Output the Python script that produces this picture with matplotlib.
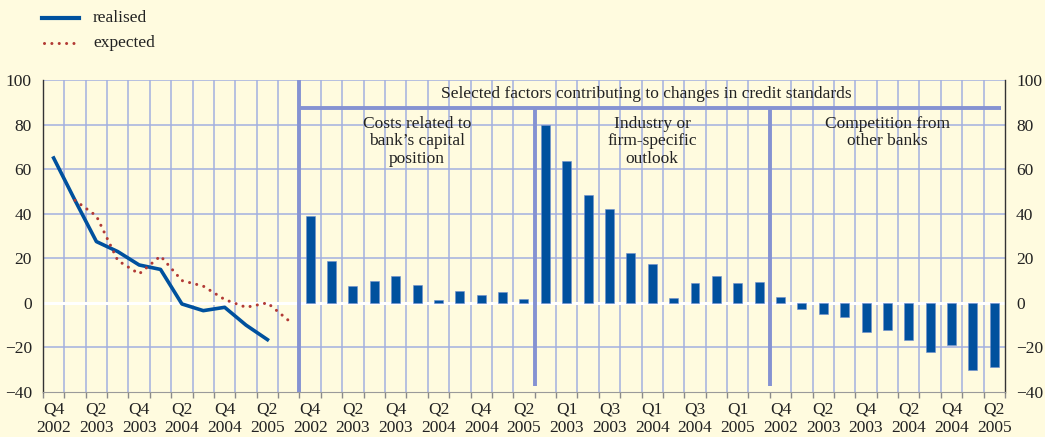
import matplotlib.pyplot as plt
import numpy as np
from matplotlib.lines import Line2D

plt.rcParams['font.family'] = ['Liberation Serif', 'DejaVu Serif']

# left panel: quarterly series Q4 2002 .. Q3 2005
realised = [65, 46, 27.5, 23, 17, 15, -0.5, -3.5, -2, -10, -16.5]
expected = [None, 46, 39, 19, 13, 21, 10, 7.5, 1.5, -2, 0, -8]
left_labels = ['Q4\n2002', 'Q2\n2003', 'Q4\n2003', 'Q2\n2004', 'Q4\n2004', 'Q2\n2005']

# right panels: Q4 2002 .. Q2 2005
costs = [39, 19, 7.5, 10, 12, 8, 1.5, 5.3, 3.3, 4.8, 1.7]
industry = [80, 63.5, 48.5, 42, 22.5, 17.5, 2, 9, 12.2, 9, 9.2]
competition = [2.7, -2.7, -5, -6.2, -13.2, -12.3, -16.5, -22, -18.8, -30, -28.6]
costs_labels = ['Q4\n2002', 'Q2\n2003', 'Q4\n2003', 'Q2\n2004', 'Q4\n2004', 'Q2\n2005']
industry_labels = ['Q1\n2003', 'Q3\n2003', 'Q1\n2004', 'Q3\n2004', 'Q1\n2005']
competition_labels = ['Q4\n2002', 'Q2\n2003', 'Q4\n2003', 'Q2\n2004', 'Q4\n2004', 'Q2\n2005']

bg = '#fffbdf'
grid_c = '#a3b0e0'
sep_c = '#8592d2'
blue = '#00519e'
red = '#b23a35'
txt = '#222222'
fs = 12.5

fig = plt.figure(figsize=(10.45, 4.37), dpi=100, facecolor=bg)
ax = fig.add_axes([0.0411, 0.103, 0.9206, 0.7139])
ax.set_facecolor(bg)

n_left = 12
x_left = np.arange(n_left)
x_costs = n_left + np.arange(len(costs))
x_ind = x_costs[-1] + 1 + np.arange(len(industry))
x_comp = x_ind[-1] + 1 + np.arange(len(competition))
n_total = x_comp[-1] + 1

ax.set_xlim(-0.5, n_total - 0.5)
ax.set_ylim(-40, 100)

# grid
seps = [n_left - 0.5, x_ind[0] - 0.5, x_comp[0] - 0.5]
for b in np.arange(0.5, n_total - 0.5, 1.0):
    if b in seps:
        continue
    ax.axvline(b, color=grid_c, lw=1.1, zorder=1)
for yv in [-20, 20, 40, 60, 80, 100]:
    ax.axhline(yv, color=grid_c, lw=1.1, zorder=1)
ax.axhline(0, color='white', lw=2.2, zorder=2)

# separators
ax.plot([seps[0], seps[0]], [-40, 100], color=sep_c, lw=2.8, zorder=3, solid_capstyle='butt')
for s in seps[1:]:
    ax.plot([s, s], [-37.5, 87.5], color=sep_c, lw=2.8, zorder=3, solid_capstyle='butt')
ax.plot([seps[0], n_total - 0.7], [87.5, 87.5], color=sep_c, lw=2.8, zorder=3, solid_capstyle='butt')

# lines
dots = (0, (0.01, 2.4))
ax.plot(x_left[:len(realised)], realised, color=blue, lw=2.6, zorder=5)
exp_x = [x for x, v in zip(x_left, expected) if v is not None]
exp_y = [v for v in expected if v is not None]
ax.plot(exp_x, exp_y, color=red, lw=2.2, linestyle=dots, dash_capstyle='round', zorder=5)

# bars
w = 0.42
for xs, vals in [(x_costs, costs), (x_ind, industry), (x_comp, competition)]:
    ax.bar(xs, vals, width=w, color=blue, edgecolor='#6f8fcf', linewidth=0.4, zorder=4)

# panel texts
ax.text((seps[0] + n_total - 0.5) / 2 - 0.3, 93.6,
        'Selected factors contributing to changes in credit standards',
        ha='center', va='center', fontsize=fs, color=txt, zorder=6)
ax.text(x_costs.mean(), 84, 'Costs related to\nbank\u2019s capital\nposition',
        ha='center', va='top', fontsize=fs, color=txt, linespacing=1.12, zorder=6)
ax.text(x_ind.mean(), 84, 'Industry or\nfirm-specific\noutlook',
        ha='center', va='top', fontsize=fs, color=txt, linespacing=1.12, zorder=6)
ax.text(x_comp.mean(), 84, 'Competition from\nother banks',
        ha='center', va='top', fontsize=fs, color=txt, linespacing=1.12, zorder=6)

# ticks
tick_pos = list(x_left[0:12:2]) + list(x_costs[0::2]) + list(x_ind[1::2]) + list(x_comp[0::2])
tick_lab = left_labels + costs_labels + industry_labels + competition_labels
ax.set_xticks(tick_pos)
ax.set_xticklabels(tick_lab, fontsize=fs, color=txt, linespacing=1.15)
ax.set_xticks(np.arange(-0.5, n_total, 1.0), minor=True)
ax.tick_params(axis='x', which='major', length=0, pad=7)
ax.tick_params(axis='x', which='minor', length=4, color='#8a8a8a', width=1.0)

ax.set_yticks(np.arange(-40, 101, 20))
ax.tick_params(axis='y', which='both', length=0, pad=8, labelsize=fs,
               labelcolor=txt, labelright=True, right=False)

for side in ['left', 'right']:
    ax.spines[side].set_color('#333333')
    ax.spines[side].set_linewidth(1.0)
ax.spines['top'].set_visible(False)
ax.spines['bottom'].set_color('#9a9a9a')

# legend drawn in figure pixels
W, H = 1045, 437
fig.add_artist(Line2D([42 / W, 79 / W], [1 - 18 / H, 1 - 18 / H], color=blue, lw=3.0))
fig.add_artist(Line2D([44 / W, 79 / W], [1 - 43 / H, 1 - 43 / H], color=red, lw=2.2,
                      linestyle=dots, dash_capstyle='round'))
fig.text(93 / W, 1 - 18 / H, 'realised', fontsize=fs, color=txt, va='center')
fig.text(93 / W, 1 - 43 / H, 'expected', fontsize=fs, color=txt, va='center')

fig.savefig('out.png', dpi=100, facecolor=bg)
